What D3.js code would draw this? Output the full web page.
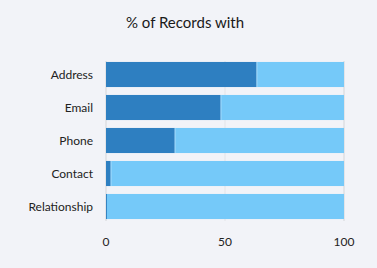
<!DOCTYPE html>
<html>
<head>
<meta charset="utf-8">
<script src="https://cdn.jsdelivr.net/npm/d3@7"></script>
<style>
  body { margin: 0; background: #f2f3f8; }
  svg { display: block; font-family: Lato, "Open Sans", sans-serif; }
</style>
</head>
<body>
<div id="chart"></div>
<script>
const categories = ["Address", "Email", "Phone", "Contact", "Relationship"];
const withValues = [63.4, 48.3, 29, 2.1, 0.4];
const ticks = [0, 50, 100];
const title = "% of Records with";

const W = 377, H = 268;
const margin = { top: 62, right: 33, bottom: 49, left: 106 };

const svg = d3.select("#chart").append("svg")
  .attr("width", W).attr("height", H);

svg.append("text")
  .attr("x", 185).attr("y", 28)
  .attr("text-anchor", "middle")
  .attr("font-size", 15)
  .attr("fill", "#1a1a1a")
  .text(title);

const x = d3.scaleLinear().domain([0, 100]).range([margin.left, W - margin.right]);
const y = d3.scaleBand().domain(categories)
  .range([margin.top - 4, margin.top - 4 + 33 * categories.length])
  .paddingInner(0.24).paddingOuter(0.12);

// grid lines
svg.append("g").selectAll("line").data(ticks).join("line")
  .attr("x1", d => x(d)).attr("x2", d => x(d))
  .attr("y1", 61).attr("y2", 221)
  .attr("stroke", "#e3e4e8")
  .attr("stroke-width", d => d === 50 ? 1 : 2);

const rows = categories.map((c, i) => ({ cat: c, v: withValues[i] }));

// remainder (light)
svg.append("g").selectAll("rect").data(rows).join("rect")
  .attr("x", d => x(d.v))
  .attr("y", d => y(d.cat))
  .attr("width", d => x(100) - x(d.v))
  .attr("height", y.bandwidth())
  .attr("fill", "#75c9f9");

// with (dark)
svg.append("g").selectAll("rect").data(rows).join("rect")
  .attr("x", x(0))
  .attr("y", d => y(d.cat))
  .attr("width", d => x(d.v) - x(0))
  .attr("height", y.bandwidth())
  .attr("fill", "#2e7fc1");

// separator
svg.append("g").selectAll("line").data(rows.filter(d => d.v > 1)).join("line")
  .attr("x1", d => x(d.v)).attr("x2", d => x(d.v))
  .attr("y1", d => y(d.cat)).attr("y2", d => y(d.cat) + y.bandwidth())
  .attr("stroke", "#a8dcfb").attr("stroke-width", 1);

// y labels
svg.append("g").selectAll("text").data(categories).join("text")
  .attr("x", 93)
  .attr("y", d => y(d) + y.bandwidth() / 2)
  .attr("dy", "0.35em")
  .attr("text-anchor", "end")
  .attr("font-size", 12)
  .attr("fill", "#222")
  .text(d => d);

// x ticks
svg.append("g").selectAll("text").data(ticks).join("text")
  .attr("x", d => x(d))
  .attr("y", 246)
  .attr("text-anchor", "middle")
  .attr("font-size", 12)
  .attr("fill", "#222")
  .text(d => d);
</script>
</body>
</html>
